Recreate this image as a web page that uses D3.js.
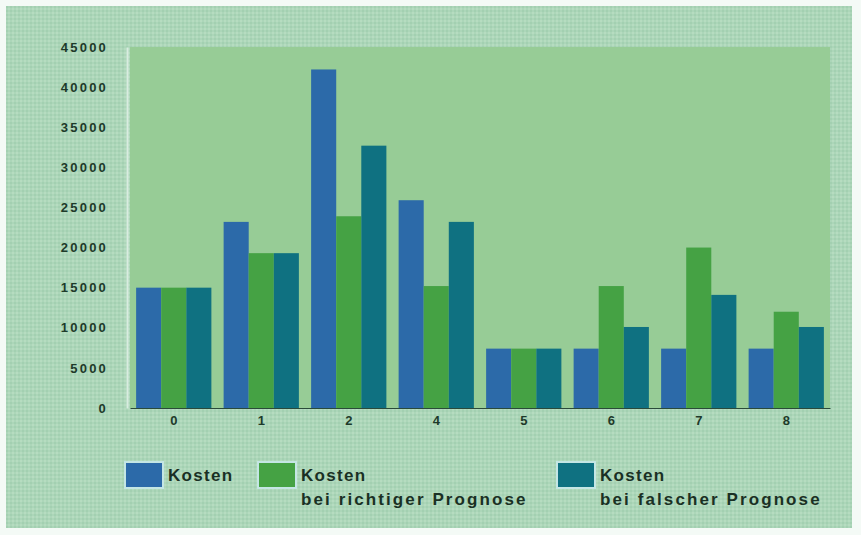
<!DOCTYPE html>
<html><head><meta charset="utf-8">
<script src="https://cdn.jsdelivr.net/npm/d3@7"></script>
<style>html,body{margin:0;padding:0;background:#fff;}svg{display:block;}</style>
</head><body>
<script>
const categories = ["0","1","2","4","5","6","7","8"];
const seriesNames = ["Kosten","Kosten bei richtiger Prognose","Kosten bei falscher Prognose"];
const legendLines = [["Kosten"],["Kosten","bei richtiger Prognose"],["Kosten","bei falscher Prognose"]];
const kosten =          [15000, 23200, 42200, 25900, 7400, 7400, 7400, 7400];
const kostenRichtig =   [15000, 19300, 23900, 15200, 7400, 15200, 20000, 12000];
const kostenFalsch =    [15000, 19300, 32700, 23200, 7400, 10100, 14100, 10100];
const yTicks = [0,5000,10000,15000,20000,25000,30000,35000,40000,45000];
const colors = ["#2c6aa9","#45a244","#0f7181"];

const W=861,H=535;
const svg=d3.select("body").append("svg").attr("width",W).attr("height",H);
const defs=svg.append("defs");
const pat=defs.append("pattern").attr("id","tex").attr("width",4).attr("height",4).attr("patternUnits","userSpaceOnUse");
pat.append("rect").attr("width",4).attr("height",4).attr("fill","#acd6b9");
pat.append("rect").attr("x",0).attr("y",0).attr("width",2).attr("height",2).attr("fill","#b6dcc0");
pat.append("rect").attr("x",2).attr("y",2).attr("width",2).attr("height",2).attr("fill","#a3d0b1");

svg.append("rect").attr("width",W).attr("height",H).attr("fill","#f4faf6");
svg.append("rect").attr("x",6).attr("y",6).attr("width",846).attr("height",522).attr("fill","url(#tex)");

const plot={l:130,r:830,t:47,b:408};
svg.append("rect").attr("x",plot.l).attr("y",plot.t).attr("width",plot.r-plot.l).attr("height",plot.b-plot.t).attr("fill","#97cc96");

const x=d3.scaleBand().domain(categories).range([plot.l,plot.r]).paddingInner(0.14).paddingOuter(0.07);
const x1=d3.scaleBand().domain([0,1,2]).range([0,x.bandwidth()]);
const y=d3.scaleLinear().domain([0,45000]).range([plot.b,plot.t]);

const series=[kosten,kostenRichtig,kostenFalsch];
categories.forEach((c,i)=>{
  series.forEach((s,j)=>{
    svg.append("rect").attr("x",x(c)+x1(j)).attr("y",y(s[i])).attr("width",x1.bandwidth()).attr("height",y(0)-y(s[i])).attr("fill",colors[j]);
  });
});

const font="Liberation Sans, Arial, sans-serif";
// y axis
const ya=svg.append("g").attr("transform",`translate(${plot.l-3},0)`).call(d3.axisLeft(y).tickValues(yTicks).tickSize(0).tickPadding(19).tickFormat(d3.format("d")));
ya.select(".domain").attr("stroke","#d8ece0").attr("stroke-width",2);
ya.selectAll("text").attr("font-family",font).attr("font-size",13).attr("font-weight","bold").attr("letter-spacing",2.2).attr("fill","#1e3a2a");

// x axis
const xa=svg.append("g").attr("transform",`translate(0,${plot.b})`).call(d3.axisBottom(x).tickSize(0).tickPadding(8));
xa.select(".domain").attr("stroke","#2a4a3a").attr("stroke-width",1);
xa.selectAll("text").attr("font-family",font).attr("font-size",13).attr("font-weight","bold").attr("fill","#1e3a2a");

// legend
const legX=[125,258,557];
legendLines.forEach((lines,j)=>{
  const g=svg.append("g");
  g.append("rect").attr("x",legX[j]-1).attr("y",461).attr("width",40).attr("height",28).attr("fill","#c4e6e4");
  g.append("rect").attr("x",legX[j]+1).attr("y",463).attr("width",36).attr("height",24).attr("fill",colors[j]);
  const t=g.append("text").attr("x",legX[j]+43).attr("y",481).attr("font-family",font).attr("font-size",17).attr("font-weight","bold").attr("fill","#1a3024");
  lines.forEach((ln,k)=>t.append("tspan").attr("x",legX[j]+43).attr("dy",k?24:0).attr("letter-spacing",k?2.1:1.3).text(ln));
});
</script>
</body></html>
